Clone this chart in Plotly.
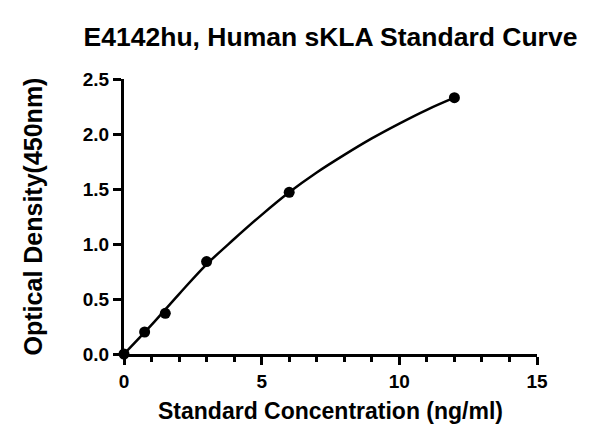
import plotly.graph_objects as go

fnt = "Liberation Sans"

# standards (dots)
conc = [0, 0.75, 1.5, 3, 6, 12]
od = [0.0, 0.2, 0.37, 0.84, 1.47, 2.33]

# fitted curve
fit_x = [0, 1, 2, 3, 4, 5, 6, 7, 8, 9, 10, 11, 12]
fit_y = [0.0, 0.265, 0.545, 0.815, 1.045, 1.265, 1.47, 1.65, 1.81, 1.96, 2.095, 2.22, 2.33]

x_ticks = [0, 5, 10, 15]
y_ticks = [0.0, 0.5, 1.0, 1.5, 2.0, 2.5]
y_labels = ["0.0", "0.5", "1.0", "1.5", "2.0", "2.5"]

fig = go.Figure()

fig.add_trace(go.Scatter(
    x=fit_x, y=fit_y, mode="lines",
    line=dict(color="black", width=2.5, shape="spline", smoothing=1.0),
    hoverinfo="skip", showlegend=False,
))
fig.add_trace(go.Scatter(
    x=conc, y=od, mode="markers",
    marker=dict(color="black", size=11),
    showlegend=False, cliponaxis=False,
))

fig.update_layout(
    width=600, height=446,
    paper_bgcolor="white", plot_bgcolor="white",
    margin=dict(l=116, r=71, t=71, b=100),
    title=dict(
        text="<b>E4142hu, Human sKLA Standard Curve</b>",
        font=dict(family=fnt, size=26.5, color="black"),
        xref="paper", x=0.5, xanchor="center", y=0.935, yanchor="middle",
    ),
    xaxis=dict(
        range=[0, 15], tickvals=x_ticks,
        showline=True, linecolor="black", linewidth=3,
        ticks="outside", ticklen=8, tickwidth=3, tickcolor="black",
        minor=dict(dtick=1, ticks="outside", ticklen=5, tickwidth=2.5, tickcolor="black"),
        showgrid=False, zeroline=False,
        tickfont=dict(family=fnt, size=19, color="black", weight="bold"),
        title=dict(text="<b>Standard Concentration (ng/ml)</b>",
                   font=dict(family=fnt, size=23, color="black"), standoff=13),
    ),
    yaxis=dict(
        range=[0, 2.5], tickvals=y_ticks, ticktext=y_labels,
        showline=True, linecolor="black", linewidth=3,
        ticks="outside", ticklen=8, tickwidth=3, tickcolor="black",
        showgrid=False, zeroline=False,
        tickfont=dict(family=fnt, size=19, color="black", weight="bold"),
        title=dict(text="<b>Optical Density(450nm)</b>",
                   font=dict(family=fnt, size=25, color="black"), standoff=34),
    ),
)

fig.write_html("out.html")
